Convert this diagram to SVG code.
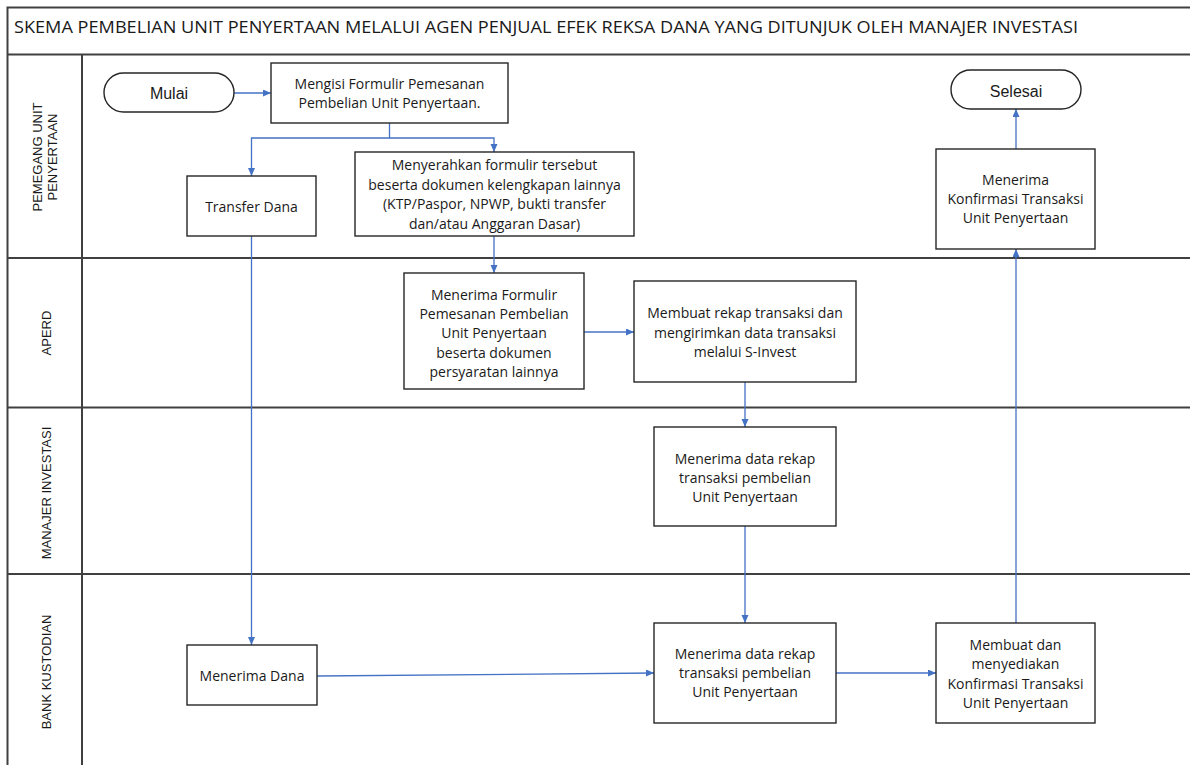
<svg xmlns="http://www.w3.org/2000/svg" width="1190" height="765" viewBox="0 0 1190 765">
<style>
.frame{fill:none;stroke:#404040;stroke-width:2}
.box{fill:#fff;stroke:#262626;stroke-width:1.4}
.t{font-family:"Open Sans","Noto Sans",sans-serif;font-size:14px;fill:#1a1a1a;text-anchor:middle}
.p{font-family:"Liberation Sans",Arial,sans-serif;font-size:16px;fill:#1a1a1a;text-anchor:middle}
.lane{font-family:"Liberation Sans",Arial,sans-serif;font-size:13px;fill:#1a1a1a;text-anchor:middle}
.title{font-family:"Open Sans","Noto Sans",sans-serif;font-size:17px;fill:#1a1a1a}
.c{fill:none;stroke:#4472C4;stroke-width:1.3;marker-end:url(#ah)}
</style>
<defs>
<marker id="ah" markerUnits="userSpaceOnUse" markerWidth="9" markerHeight="8" refX="8" refY="3.5" orient="auto">
<path d="M0,0 L8,3.5 L0,7 z" fill="#4472C4"/>
</marker>
</defs>
<rect width="1190" height="765" fill="#fff"/>
<g id="frame">
<path class="frame" d="M7.5,765 V7.5 H1190 M7.5,54.5 H1190 M82,54.5 V765 M7.5,258 H1190 M7.5,407.5 H1190 M7.5,574 H1190"/>
<text class="title" x="14" y="33" textLength="1064" lengthAdjust="spacingAndGlyphs">SKEMA PEMBELIAN UNIT PENYERTAAN MELALUI AGEN PENJUAL EFEK REKSA DANA YANG DITUNJUK OLEH MANAJER INVESTASI</text>
</g>
<g id="lane-labels">
<text class="lane" transform="translate(42,157) rotate(-90)">PEMEGANG UNIT</text>
<text class="lane" transform="translate(57,157) rotate(-90)">PENYERTAAN</text>
<text class="lane" transform="translate(51,333) rotate(-90)">APERD</text>
<text class="lane" transform="translate(51,493) rotate(-90)">MANAJER INVESTASI</text>
<text class="lane" transform="translate(51,672) rotate(-90)">BANK KUSTODIAN</text>
</g>
<g id="connectors">
<path class="c" d="M234,93 H271"/>
<path class="c" d="M389.5,123 V138 H251.5 V176"/>
<path class="c" d="M389.5,138 H494 V152"/>
<path class="c" d="M251.5,236 V645"/>
<path class="c" d="M494,236 V273"/>
<path class="c" d="M584,332 H634"/>
<path class="c" d="M745,382 V427"/>
<path class="c" d="M745,526 V623"/>
<path class="c" d="M317,676 L654,673"/>
<path class="c" d="M836,673 H936"/>
<path class="c" d="M1016,623 V249"/>
<path class="c" d="M1016,149 V109"/>
</g>
<g id="mulai">
<rect class="box" x="104" y="73" width="130" height="39" rx="19.5"/>
<text class="p" x="169" y="98.5">Mulai</text>
</g>
<g id="mengisi">
<rect class="box" x="271" y="63" width="237" height="60"/>
<text class="t" x="389.5" y="88.5">Mengisi Formulir Pemesanan</text>
<text class="t" x="389.5" y="107.5">Pembelian Unit Penyertaan.</text>
</g>
<g id="transfer-dana">
<rect class="box" x="187" y="176" width="129" height="60"/>
<text class="t" x="251.5" y="211.5">Transfer Dana</text>
</g>
<g id="menyerahkan">
<rect class="box" x="355" y="152" width="279" height="84"/>
<text class="t" x="494.5" y="170">Menyerahkan formulir tersebut</text>
<text class="t" x="494.5" y="190">beserta dokumen kelengkapan lainnya</text>
<text class="t" x="494.5" y="209">(KTP/Paspor, NPWP, bukti transfer</text>
<text class="t" x="494.5" y="229">dan/atau Anggaran Dasar)</text>
</g>
<g id="selesai">
<rect class="box" x="951" y="70" width="130" height="39" rx="19.5"/>
<text class="p" x="1016" y="96.5">Selesai</text>
</g>
<g id="menerima-konfirmasi">
<rect class="box" x="936" y="149" width="159" height="100"/>
<text class="t" x="1015.5" y="185">Menerima</text>
<text class="t" x="1015.5" y="204">Konfirmasi Transaksi</text>
<text class="t" x="1015.5" y="223">Unit Penyertaan</text>
</g>
<g id="menerima-formulir">
<rect class="box" x="404" y="273" width="180" height="116"/>
<text class="t" x="494" y="300">Menerima Formulir</text>
<text class="t" x="494" y="319.2">Pemesanan Pembelian</text>
<text class="t" x="494" y="338.4">Unit Penyertaan</text>
<text class="t" x="494" y="357.6">beserta dokumen</text>
<text class="t" x="494" y="376.8">persyaratan lainnya</text>
</g>
<g id="membuat-rekap">
<rect class="box" x="634" y="281" width="222" height="101"/>
<text class="t" x="745" y="318">Membuat rekap transaksi dan</text>
<text class="t" x="745" y="337.5">mengirimkan data transaksi</text>
<text class="t" x="745" y="357">melalui S-Invest</text>
</g>
<g id="mi-menerima-data">
<rect class="box" x="654" y="427" width="182" height="99"/>
<text class="t" x="745" y="464">Menerima data rekap</text>
<text class="t" x="745" y="483">transaksi pembelian</text>
<text class="t" x="745" y="502">Unit Penyertaan</text>
</g>
<g id="menerima-dana">
<rect class="box" x="187" y="645" width="130" height="60"/>
<text class="t" x="252" y="681">Menerima Dana</text>
</g>
<g id="bank-menerima-data">
<rect class="box" x="654" y="623" width="182" height="100"/>
<text class="t" x="745" y="659">Menerima data rekap</text>
<text class="t" x="745" y="678">transaksi pembelian</text>
<text class="t" x="745" y="697">Unit Penyertaan</text>
</g>
<g id="membuat-konfirmasi">
<rect class="box" x="936" y="623" width="159" height="100"/>
<text class="t" x="1015.5" y="650">Membuat dan</text>
<text class="t" x="1015.5" y="669">menyediakan</text>
<text class="t" x="1015.5" y="688.5">Konfirmasi Transaksi</text>
<text class="t" x="1015.5" y="708">Unit Penyertaan</text>
</g>
</svg>
